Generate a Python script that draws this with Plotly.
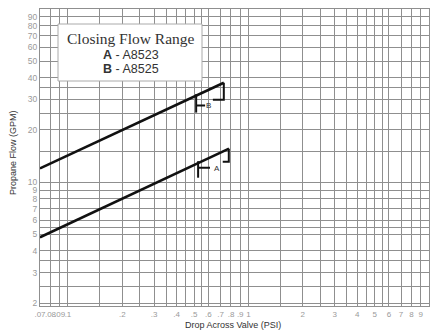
import math
import plotly.graph_objects as go

# ---- data ----
line_a_x = [0.07, 0.78]
line_a_y = [4.8, 15.6]
line_b_x = [0.07, 0.73]
line_b_y = [12.0, 37.5]

# closing-range brackets (x in PSI, y in GPM)
a_right_x = [0.778, 0.778, 0.72]
a_right_y = [15.6, 13.1, 13.1]
a_left_vx = [0.526, 0.526]
a_left_vy = [13.2, 10.6]
a_left_hx = [0.526, 0.612]
a_left_hy = [12.1, 12.1]
b_right_x = [0.73, 0.73, 0.635]
b_right_y = [37.5, 29.9, 29.9]
b_left_vx = [0.513, 0.513]
b_left_vy = [32.2, 25.2]
b_left_hx = [0.513, 0.575]
b_left_hy = [27.7, 27.7]
label_a = (0.672, 12.0)
label_b = (0.603, 27.8)

x_grid = [.07, .08, .09, .1, .15, .2, .25, .3, .35, .4, .45, .5, .55, .6, .7, .8, .9,
          1, 1.5, 2, 2.5, 3, 3.5, 4, 4.5, 5, 5.5, 6, 7, 8, 9, 10]
x_text = [".07", ".08", ".09", ".1", "", ".2", "", ".3", "", ".4", "", ".5", "", ".6", ".7", ".8", ".9",
          "1", "", "2", "", "3", "", "4", "", "5", "", "6", "7", "8", "9", "10"]
y_grid = [2, 2.5, 3, 3.5, 4, 5, 5.5, 6, 7, 8, 9, 10, 15, 20, 25, 30, 35, 40, 50, 60, 70, 80, 90, 100]
y_text = ["2", "", "3", "", "4", "5", "", "6", "7", "8", "9", "10", "", "20", "", "30", "", "40",
          "50", "60", "70", "80", "90", ""]

fig = go.Figure()
main = dict(color="#111", width=2.6)
brk = dict(color="#111", width=2)
fig.add_trace(go.Scatter(x=line_a_x, y=line_a_y, mode="lines", line=main))
fig.add_trace(go.Scatter(x=line_b_x, y=line_b_y, mode="lines", line=main))
for xs, ys in [(a_right_x, a_right_y), (a_left_vx, a_left_vy), (a_left_hx, a_left_hy),
               (b_right_x, b_right_y), (b_left_vx, b_left_vy), (b_left_hx, b_left_hy)]:
    fig.add_trace(go.Scatter(x=xs, y=ys, mode="lines", line=brk))

for txt, (lx, ly) in [("A", label_a), ("B", label_b)]:
    fig.add_annotation(x=math.log10(lx), y=math.log10(ly), text=txt, showarrow=False,
                       xanchor="center", yanchor="middle",
                       font=dict(family="Liberation Sans", size=8, color="#333"))

fig.update_xaxes(type="log", range=[math.log10(0.07), 1.0], tickvals=x_grid, ticktext=x_text,
                 tickangle=0, showgrid=True, gridcolor="#8f8f8f", gridwidth=1,
                 showline=True, linecolor="#8f8f8f", mirror=True, ticks="", zeroline=False,
                 tickfont=dict(family="Liberation Sans", size=8, color="#9a9a9a"))
fig.update_yaxes(type="log", range=[0.284, 2.0], tickvals=y_grid, ticktext=y_text,
                 showgrid=True, gridcolor="#8f8f8f", gridwidth=1,
                 showline=True, linecolor="#8f8f8f", mirror=True, ticks="", zeroline=False,
                 tickfont=dict(family="Liberation Sans", size=8.5, color="#9a9a9a"))

# legend box
def px_x(p):
    return (p - 40) / 389.0

def px_y(p):
    return (306 - p) / 297.0

fig.add_shape(type="rect", xref="paper", yref="paper", x0=px_x(58), x1=px_x(202),
              y0=px_y(81), y1=px_y(24), fillcolor="white", line=dict(color="#aaa", width=1),
              layer="above")
ann = dict(xref="paper", yref="paper", showarrow=False, xanchor="center", yanchor="middle")
fig.add_annotation(x=px_x(131), y=px_y(38), text="Closing Flow Range",
                   font=dict(family="Liberation Serif", size=15.5, color="#333"), **ann)
fig.add_annotation(x=px_x(131), y=px_y(55), text="<b>A</b> - A8523",
                   font=dict(family="Liberation Sans", size=12.5, color="#333"), **ann)
fig.add_annotation(x=px_x(131), y=px_y(69), text="<b>B</b> - A8525",
                   font=dict(family="Liberation Sans", size=12.5, color="#333"), **ann)

# axis titles
fig.add_annotation(x=px_x(13), y=px_y(152), text="Propane Flow (GPM)", textangle=-90,
                   font=dict(family="Liberation Sans", size=9, color="#333"), **ann)
fig.add_annotation(x=px_x(233), y=px_y(325), text="Drop Across Valve (PSI)",
                   font=dict(family="Liberation Sans", size=9, color="#333"), **ann)

fig.update_layout(width=431, height=333, margin=dict(l=40, r=2, t=9, b=27),
                  paper_bgcolor="white", plot_bgcolor="white", showlegend=False)
fig.write_html("out.html")
